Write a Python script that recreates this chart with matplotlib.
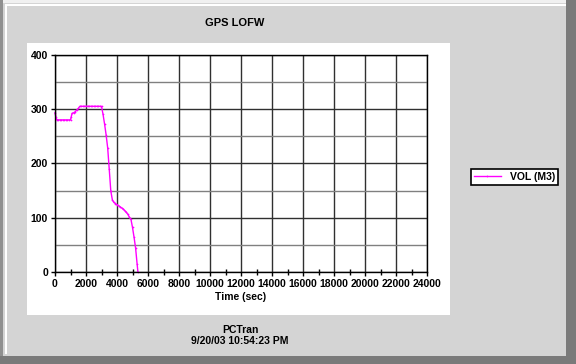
import matplotlib
matplotlib.use("Agg")
import matplotlib.pyplot as plt
from matplotlib.patches import Rectangle
from matplotlib.ticker import MultipleLocator

plt.rcParams['font.family'] = ['Liberation Sans', 'DejaVu Sans']
plt.rcParams['font.weight'] = 'bold'

title = "GPS LOFW"
series_name = "VOL (M3)"
x_label = "Time (sec)"
footer_1 = "PCTran"
footer_2 = "9/20/03 10:54:23 PM"

time_s = [0, 60, 120, 200, 300, 400, 500, 600, 700, 800, 900, 1000, 1050, 1100,
          1200, 1300, 1400, 1500, 1600, 1700, 1800, 1900, 2000, 2100, 2200, 2300,
          2400, 2500, 2600, 2700, 2800, 2900, 3000, 3100, 3200, 3300, 3400, 3500,
          3600, 3700, 3800, 3900, 4000, 4100, 4200, 4300, 4400, 4500, 4600, 4700,
          4800, 4900, 5000, 5100, 5200, 5300, 5350]
vol_m3 = [293, 285, 280, 280, 280, 280, 280, 280, 280, 280, 280, 280, 286, 292,
          293, 295, 298, 301, 305, 305, 305, 305, 305, 305, 305, 305,
          305, 305, 305, 305, 305, 305, 305, 290, 272, 252, 228, 189,
          149, 133, 128, 126, 124, 122, 120, 118, 116, 113, 110, 106,
          101, 97, 82, 64, 44, 14, 0]

W, H = 576, 364
fig = plt.figure(figsize=(W / 100, H / 100), dpi=100)
fig.patch.set_facecolor('#d4d4d4')

def frect(x0, y0, x1, y1, **kw):
    # pixel coords (top-left origin) -> figure rectangle, drawn beneath the axes
    fig.patches.append(Rectangle((x0 / W, 1 - y1 / H), (x1 - x0) / W, (y1 - y0) / H,
                                 transform=fig.transFigure, zorder=-5, **kw))

# bevel frame
frect(0, 0, 576, 3, facecolor='#f0f0f0', edgecolor='none')
frect(0, 0, 3, 364, facecolor='#909090', edgecolor='none')
frect(5, 4, 7, 354, facecolor='#ffffff', edgecolor='none')
frect(5, 4, 568, 6, facecolor='#ffffff', edgecolor='none')
frect(566, 0, 576, 364, facecolor='#7a7a7a', edgecolor='none')
frect(0, 356, 576, 364, facecolor='#7a7a7a', edgecolor='none')
# white chart panel
frect(27, 43, 450, 315, facecolor='white', edgecolor='none')

ax = fig.add_axes([55 / W, 1 - 272 / H, (427 - 55) / W, (272 - 54.7) / H])
ax.set_facecolor('white')
ax.set_xlim(0, 24000)
ax.set_ylim(0, 400)
ax.xaxis.set_major_locator(MultipleLocator(2000))
ax.xaxis.set_minor_locator(MultipleLocator(1000))
ax.yaxis.set_major_locator(MultipleLocator(100))
ax.yaxis.set_minor_locator(MultipleLocator(50))
ax.grid(True, which='major', axis='both', color='#303030', linewidth=1.0)
ax.grid(True, which='minor', axis='y', color='#808080', linewidth=1.0)
ax.set_axisbelow(True)
for s in ax.spines.values():
    s.set_color('black')
    s.set_linewidth(1.0)
ax.tick_params(axis='both', which='major', direction='out', length=3, width=1,
               labelsize=7.5, pad=2, colors='black')
ax.tick_params(axis='x', which='minor', direction='inout', length=4, width=1)
ax.tick_params(axis='y', which='minor', length=0)
for lab in ax.get_xticklabels() + ax.get_yticklabels():
    lab.set_fontweight('bold')

line, = ax.plot(time_s, vol_m3, color='#ff00ff', linewidth=1.0, marker='.',
                markersize=2.5, markeredgewidth=0, label=series_name, clip_on=False)

ax.set_xlabel(x_label, fontsize=7.5, fontweight='bold', labelpad=2)

fig.text(235 / W, 1 - 23 / H, title, ha='center', va='center', fontsize=8, fontweight='bold')
fig.text(240 / W, 1 - 330 / H, footer_1, ha='center', va='center', fontsize=7.5, fontweight='bold')
fig.text(240 / W, 1 - 341 / H, footer_2, ha='center', va='center', fontsize=7.5, fontweight='bold')

leg = fig.legend(handles=[line], labels=[series_name], loc='center left',
                 bbox_to_anchor=(471 / W, 1 - 177 / H), frameon=True, fancybox=False,
                 edgecolor='black', facecolor='white', framealpha=1,
                 handlelength=2.6, handletextpad=0.9, borderpad=0.25, borderaxespad=0,
                 prop={'weight': 'bold', 'size': 7.5})
leg.get_frame().set_linewidth(1.2)

fig.savefig('out.png', dpi=100, facecolor=fig.get_facecolor())
